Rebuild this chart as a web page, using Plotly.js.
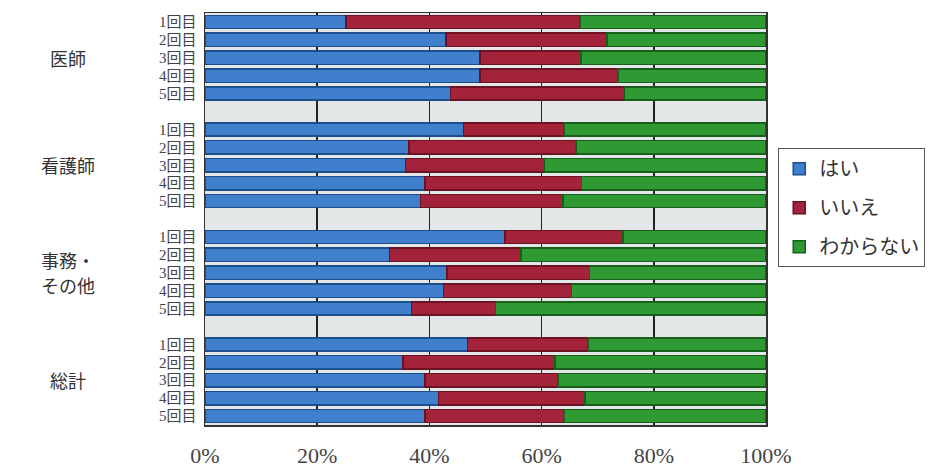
<!DOCTYPE html>
<html>
<head>
<meta charset="utf-8">
<script src="https://cdn.plot.ly/plotly-3.0.1.min.js"></script>
<style>
  html, body { margin: 0; padding: 0; background: #ffffff; }
  #chart { width: 936px; height: 472px; }
</style>
</head>
<body>
<div id="chart"></div>
<script>
// ---- data (percent) ----
const groups = ["医師", "看護師", "事務・|その他", "総計"];
const rounds = ["1回目", "2回目", "3回目", "4回目", "5回目"];
const seriesNames = ["はい", "いいえ", "わからない"];

// はい (yes)
const hai_ishi   = [25.1, 43.0, 49.0, 49.0, 43.8];
const hai_kango  = [46.1, 36.4, 35.7, 39.2, 38.4];
const hai_jimu   = [53.5, 32.9, 43.1, 42.5, 36.8];
const hai_total  = [46.8, 35.3, 39.2, 41.6, 39.2];

// いいえ (no)
const iie_ishi   = [41.7, 28.7, 18.0, 24.6, 31.0];
const iie_kango  = [17.9, 29.7, 24.8, 27.9, 25.4];
const iie_jimu   = [21.0, 23.4, 25.4, 22.8, 15.0];
const iie_total  = [21.5, 27.1, 23.7, 26.1, 24.9];

// わからない (don't know)
const wakaranai_ishi  = [33.2, 28.3, 33.0, 26.4, 25.2];
const wakaranai_kango = [36.0, 33.9, 39.5, 32.9, 36.2];
const wakaranai_jimu  = [25.5, 43.7, 31.5, 34.7, 48.2];
const wakaranai_total = [31.7, 37.6, 37.1, 32.3, 35.9];

const haiAll  = [hai_ishi, hai_kango, hai_jimu, hai_total];
const iieAll  = [iie_ishi, iie_kango, iie_jimu, iie_total];
const wakAll  = [wakaranai_ishi, wakaranai_kango, wakaranai_jimu, wakaranai_total];

// ---- build positions: 5 bars per group, one empty slot between groups ----
const ypos = [], ylab = [];
const vHai = [], vIie = [], vWak = [];
const groupCenters = [];
groups.forEach((g, gi) => {
  rounds.forEach((r, ri) => {
    const p = gi * 6 + ri;
    ypos.push(p); ylab.push(r);
    vHai.push(haiAll[gi][ri]);
    vIie.push(iieAll[gi][ri]);
    vWak.push(wakAll[gi][ri]);
  });
  groupCenters.push(gi * 6 + 2);
});

const colors = ["#3f7fcc", "#a3233b", "#2f9a34"];
const lines  = ["#1d4f8f", "#6a1224", "#16601b"];
const vals = [vHai, vIie, vWak];

const traces = seriesNames.map((n, i) => ({
  type: "bar",
  orientation: "h",
  name: n,
  legendgroup: "g" + i,
  y: ypos,
  x: vals[i],
  marker: { color: colors[i], line: { color: lines[i], width: 1.5 } },
  hoverinfo: "x+name"
}));

const annotations = [];
groups.forEach((g, gi) => {
  const parts = g.split("|");
  parts.forEach((t, k) => {
    const off = (k - (parts.length - 1) / 2) * 1.4;
    annotations.push({
      xref: "paper", yref: "y",
      x: -0.245, y: groupCenters[gi] + off,
      text: t, showarrow: false,
      xanchor: "center", yanchor: "middle",
      font: { family: "Noto Sans CJK JP", size: 18, color: "#333333" }
    });
  });
});

const layout = {
  width: 936, height: 472,
  margin: { l: 205, r: 169, t: 13, b: 47, pad: 0 },
  paper_bgcolor: "#ffffff",
  plot_bgcolor: "#e3e7e7",
  barmode: "stack",
  bargap: 0.26,
  showlegend: true,
  legend: {
    x: 1.02, y: 0.672, xanchor: "left", yanchor: "top",
    bgcolor: "#ffffff",
    bordercolor: "#555555", borderwidth: 1,
    font: { family: "Noto Sans CJK JP", size: 20, color: "#333333" },
    traceorder: "grouped",
    tracegroupgap: 10,
    itemwidth: 30
  },
  xaxis: {
    range: [0, 100],
    tickvals: [0, 20, 40, 60, 80, 100],
    ticktext: ["0%", "20%", "40%", "60%", "80%", "100%"],
    showgrid: true, gridcolor: "#222222", gridwidth: 1.5,
    zeroline: false,
    showline: true, linecolor: "#333333", linewidth: 1.5, mirror: true,
    ticks: "",
    ticklabelstandoff: 10,
    tickfont: { family: "Liberation Serif", size: 22, color: "#444444" },
    fixedrange: true
  },
  yaxis: {
    range: [22.5, -0.5],
    tickvals: ypos,
    ticktext: ylab,
    showgrid: false,
    zeroline: false,
    showline: true, linecolor: "#333333", linewidth: 1.5, mirror: true,
    ticks: "",
    ticklabelstandoff: 4,
    tickfont: { family: "Liberation Serif, Noto Sans CJK JP", size: 15, color: "#444444" },
    fixedrange: true
  },
  annotations: annotations
};

Plotly.newPlot("chart", traces, layout, { displayModeBar: false, staticPlot: true });
</script>
</body>
</html>
